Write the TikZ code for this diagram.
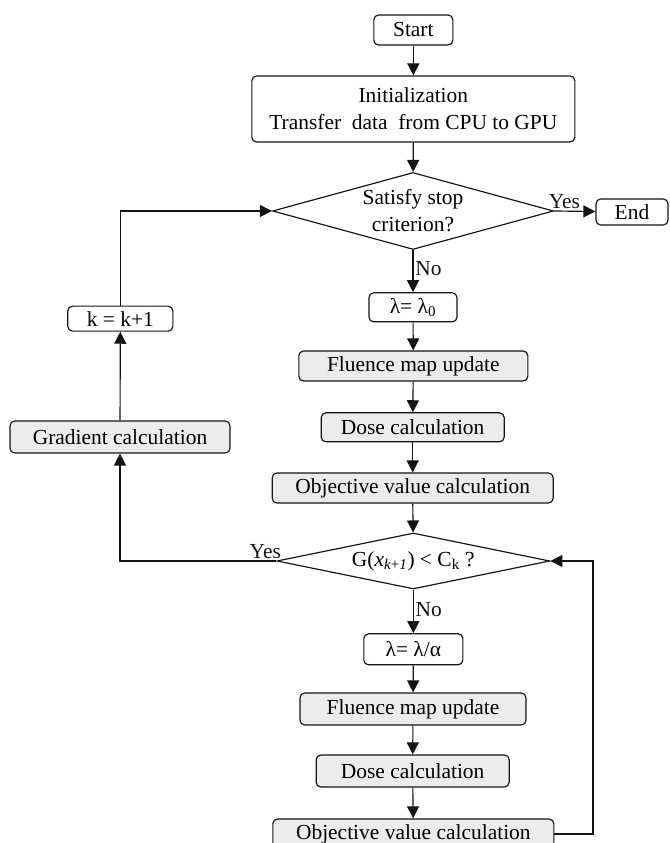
\documentclass[tikz,border=0pt]{standalone}
\usepackage{fontspec}
\setmainfont{Liberation Serif}
\usepackage{tikz}
\usetikzlibrary{arrows.meta,positioning,shapes.geometric}
\definecolor{boxgray}{RGB}{236,236,236}
\definecolor{inkblack}{RGB}{20,20,20}

\begin{document}
\begin{tikzpicture}[
  font=\fontsize{18.3}{23}\selectfont,
  line width=1pt, draw=inkblack,
  plainbox/.style={rounded corners=4pt, draw=inkblack, fill=white,
                   inner sep=2pt, align=center, line width=1pt},
  calcbox/.style={plainbox, fill=boxgray},
  decision/.style={diamond, draw=inkblack, fill=white, inner sep=0pt,
                   align=center, line width=1pt},
  flow/.style={-{Triangle[length=0.36cm,width=0.36cm]}, line width=1pt,
               draw=inkblack},
  lbl/.style={inner sep=1.5pt, text=inkblack},
]
\useasboundingbox (0,0) rectangle (20.10,25.29);

% -------------------------------------------------------------------------
% Outer loop: start, initialization and stop test.
% -------------------------------------------------------------------------
\node[plainbox, minimum width=2.37cm, minimum height=0.90cm]
  (start) at (12.40,24.39) {Start};
\node[plainbox, minimum width=9.69cm, minimum height=1.98cm]
  (init) at (12.40,22.02)
  {Initialization\\Transfer~ data~ from CPU to GPU};
\node[decision, minimum width=8.43cm, minimum height=2.31cm, aspect=3.65]
  (stop) at (12.39,18.96) {Satisfy stop\\criterion?};
\node[plainbox, minimum width=2.16cm, minimum height=0.78cm]
  (finish) at (18.96,18.93) {End};

\node[plainbox, minimum width=2.64cm, minimum height=0.87cm]
  (lamzero) at (12.39,16.07) {λ= λ\textsubscript{0}};
\node[calcbox, minimum width=6.87cm, minimum height=0.90cm]
  (fluA) at (12.40,14.31) {Fluence map update};
\node[calcbox, minimum width=5.49cm, minimum height=0.87cm]
  (doseA) at (12.38,12.47) {Dose calculation};
\node[calcbox, minimum width=8.43cm, minimum height=0.90cm]
  (objA) at (12.38,10.65) {Objective value calculation};

% -------------------------------------------------------------------------
% Line search: step test and step reduction.
% -------------------------------------------------------------------------
\node[decision, minimum width=8.19cm, minimum height=1.68cm, aspect=4.87]
  (armijo) at (12.40,8.46)
  {G(\textit{x}\textsubscript{\textit{k}+\textit{1}}) < C\textsubscript{k} ?};
\node[plainbox, minimum width=2.97cm, minimum height=0.93cm]
  (lamdiv) at (12.40,5.81) {λ= λ/α};
\node[calcbox, minimum width=6.78cm, minimum height=0.96cm]
  (fluB) at (12.39,4.02) {Fluence map update};
\node[calcbox, minimum width=5.79cm, minimum height=0.96cm]
  (doseB) at (12.38,2.16) {Dose calculation};
\node[calcbox, minimum width=8.43cm, minimum height=0.90cm]
  (objB) at (12.40,0.27) {Objective value calculation};

% left branch
\node[calcbox, minimum width=6.60cm, minimum height=0.96cm]
  (grad) at (3.60,12.18) {Gradient calculation};
\node[plainbox, minimum width=3.15cm, minimum height=0.75cm]
  (kinc) at (3.61,15.73) {k = k+1};

\coordinate (loop) at (17.79,4.00);

% -------------------------------------------------------------------------
% Connectors.
% -------------------------------------------------------------------------
\draw[flow] (start) -- (init);
\draw[flow] (init) -- (stop);
\draw[flow] (stop.east) -- node[lbl, above, pos=0.25] {Yes} (finish);
\draw[flow] (stop.south) -- node[lbl, right, pos=0.45] {No} (lamzero);
\draw[flow] (lamzero) -- (fluA);
\draw[flow] (fluA) -- (doseA);
\draw[flow] (doseA) -- (objA);
\draw[flow] (objA) -- (armijo);
\draw[flow] (armijo.south) -- node[lbl, right, pos=0.45] {No} (lamdiv);
\draw[flow] (lamdiv) -- (fluB);
\draw[flow] (fluB) -- (doseB);
\draw[flow] (doseB) -- (objB);
\draw[flow] (objB.east) -| (loop) |- (armijo.east);
\draw[flow] (armijo.west) -| node[lbl, above, pos=0.035] {Yes} (grad.south);
\draw[flow] (grad) -- (kinc);
\draw[flow] (kinc.north) |- (stop.west);

\end{tikzpicture}
\end{document}
